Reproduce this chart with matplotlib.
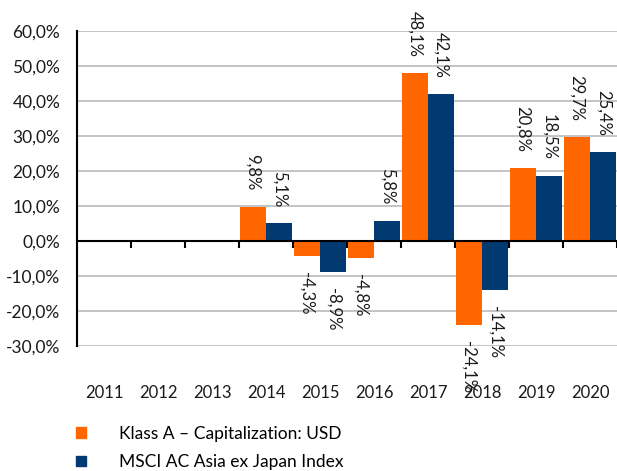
import matplotlib
matplotlib.use("Agg")
import matplotlib.pyplot as plt
import numpy as np
from matplotlib.transforms import blended_transform_factory

plt.rcParams['font.family'] = ['Lato', 'DejaVu Sans']

years = ["2011", "2012", "2013", "2014", "2015", "2016", "2017", "2018", "2019", "2020"]
klass_a = [None, None, None, 9.8, -4.3, -4.8, 48.1, -24.1, 20.8, 29.7]
msci = [None, None, None, 5.1, -8.9, 5.8, 42.1, -14.1, 18.5, 25.4]
series_names = ["Klass A – Capitalization: USD", "MSCI AC Asia ex Japan Index"]
colors = ["#FF6600", "#003A70"]
yticks = [-30, -20, -10, 0, 10, 20, 30, 40, 50, 60]

fig = plt.figure(figsize=(6.17, 4.71), dpi=100)
ax = fig.add_axes([77/617, 1-346/471, 540/617, 315/471])

x = np.arange(len(years))
w = 0.49
for i, (vals, col, name) in enumerate(zip([klass_a, msci], colors, series_names)):
    xs = [xi + (i - 0.5) * w for xi, v in zip(x, vals) if v is not None]
    vs = [v for v in vals if v is not None]
    ax.bar(xs, vs, width=w, color=col, label=name, zorder=3, linewidth=0)
    for xi, v in zip(xs, vs):
        lab = f"{v:.1f}%".replace(".", ",")
        ax.annotate(lab, (xi, v), xytext=(0, 11.5 if v > 0 else -11.5),
                    textcoords="offset points", rotation=270,
                    ha="center", va="bottom" if v > 0 else "top",
                    fontsize=12, color="#1a1a1a", zorder=4)

ax.set_xlim(-0.5, len(years) - 0.5)
ax.set_ylim(-30, 60)
ax.set_yticks(yticks)
ax.set_yticklabels([f"{t:.1f}%".replace(".", ",") for t in yticks], fontsize=12.5, color="#1a1a1a")
ax.tick_params(axis="y", length=0, pad=12)
ax.yaxis.grid(True, color="#BFBFBF", linewidth=1.3, zorder=0)
ax.set_axisbelow(True)

for s in ["top", "right"]:
    ax.spines[s].set_visible(False)
ax.spines["left"].set_linewidth(1.5)
ax.spines["bottom"].set_position(("data", 0))
ax.spines["bottom"].set_linewidth(1.5)
ax.spines["bottom"].set_zorder(5)
ax.set_xticks(x + 0.5, minor=False)
ax.set_xticklabels([])
ax.tick_params(axis="x", direction="out", length=5, width=1.5)

trans = blended_transform_factory(ax.transData, ax.transAxes)
for xi, yr in zip(x, years):
    ax.text(xi, -0.149, yr, transform=trans, ha="center", va="center", fontsize=12, color="#1a1a1a")

handles = [plt.Rectangle((0, 0), 1, 1, color=c) for c in colors]
fig.legend(handles, series_names, loc="upper left", bbox_to_anchor=(62/617, 1-412/471),
           frameon=False, fontsize=12.5, handlelength=0.58, handleheight=0.58,
           handletextpad=1.9, labelspacing=0.7, borderpad=0.3)

fig.savefig("out.png", dpi=100)
